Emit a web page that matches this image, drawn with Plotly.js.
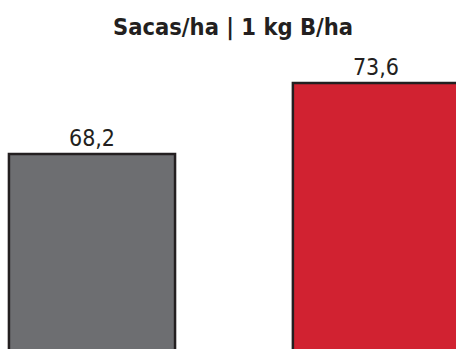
<!DOCTYPE html>
<html>
<head>
<meta charset="utf-8">
<script src="https://cdn.plot.ly/plotly-3.0.1.min.js"></script>
<style>html,body{margin:0;padding:0;background:#fff;}#chart{width:456px;height:349px;}</style>
</head>
<body>
<div id="chart"></div>
<script>
const categories = ["Controle", "1 kg B/ha"];
const values = [68.2, 73.6];
const barColors = ["#6d6e71", "#d12231"];
const chartTitle = "Sacas/ha | 1 kg B/ha";

const trace = {
  type: "bar",
  x: [0, 1],
  y: values,
  width: 0.585,
  marker: { color: barColors, line: { color: "#231f20", width: 2.5 } },
  text: values.map(v => v.toFixed(1).replace(".", ",")),
  textposition: "outside",
  cliponaxis: false,
  textfont: { family: "DejaVu Sans Condensed, sans-serif", size: 23, color: "#231f20" },
  hoverinfo: "none"
};

const layout = {
  width: 456, height: 349,
  margin: { l: 0, r: 0, t: 0, b: 0 },
  paper_bgcolor: "#ffffff", plot_bgcolor: "#ffffff",
  showlegend: false,
  separators: ",.",
  xaxis: { range: [-0.324, 1.282], visible: false, fixedrange: true },
  yaxis: { range: [53.37, 79.9], visible: false, fixedrange: true },
  annotations: [{
    text: "<b>" + chartTitle + "</b>",
    xref: "paper", yref: "paper",
    x: 233 / 456, y: 1 - 27 / 349,
    xanchor: "center", yanchor: "middle",
    showarrow: false,
    font: { family: "DejaVu Sans Condensed, sans-serif", size: 23.5, color: "#231f20" }
  }]
};

Plotly.newPlot("chart", [trace], layout, { displayModeBar: false, staticPlot: true });
</script>
</body>
</html>
